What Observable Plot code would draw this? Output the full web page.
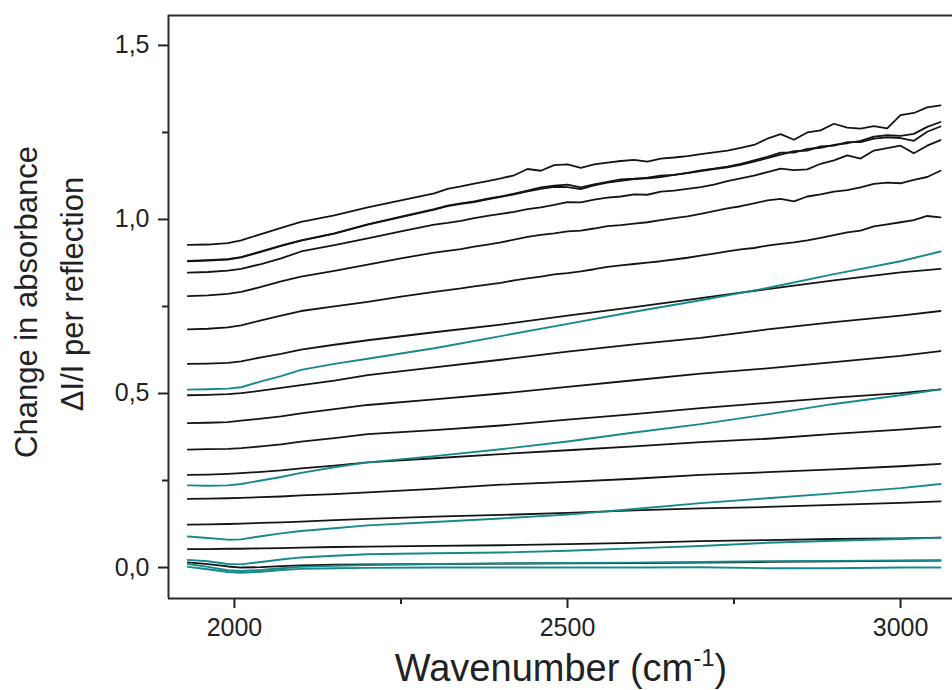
<!DOCTYPE html>
<html>
<head>
<meta charset="utf-8">
<script src="https://cdn.jsdelivr.net/npm/d3@7"></script>
<script src="https://cdn.jsdelivr.net/npm/@observablehq/plot@0.6"></script>
<style>
  html, body { margin: 0; padding: 0; background: #ffffff; }
  #chart svg { display: block; }
</style>
</head>
<body>
<div id="chart"></div>
<script>
// ---------- data ----------
// wavenumber grids (cm^-1)
const wnNoisy = [1930, 1960, 1990, 2010, 2040, 2070, 2100, 2150, 2200, 2250, 2300,
  2320, 2340, 2360, 2380, 2400, 2420, 2440, 2460, 2480, 2500,
  2520, 2540, 2560, 2580, 2600, 2620, 2640, 2660, 2680, 2700,
  2720, 2740, 2760, 2780, 2800, 2820, 2840, 2860, 2880, 2900,
  2920, 2940, 2960, 2980, 3000, 3020, 3040, 3060];
const wnSmooth = [1930, 1960, 1990, 2010, 2040, 2070, 2100, 2150, 2200, 2300,
  2400, 2500, 2600, 2700, 2800, 2900, 3000, 3060];

// black spectra (noisy upper group, on wnNoisy)
const blackA = [0.927, 0.928, 0.932, 0.940, 0.958, 0.976, 0.993, 1.012, 1.035, 1.055, 1.075,
  1.088, 1.095, 1.103, 1.110, 1.118, 1.127, 1.145, 1.140, 1.156, 1.158,
  1.148, 1.158, 1.163, 1.168, 1.171, 1.166, 1.175, 1.178, 1.182, 1.188,
  1.193, 1.198, 1.206, 1.214, 1.232, 1.245, 1.229, 1.250, 1.256, 1.275,
  1.264, 1.261, 1.268, 1.262, 1.300, 1.306, 1.322, 1.328];
const blackB = [0.881, 0.883, 0.886, 0.892, 0.908, 0.925, 0.940, 0.960, 0.986, 1.008, 1.030,
  1.040, 1.046, 1.052, 1.060, 1.066, 1.074, 1.083, 1.092, 1.097, 1.100,
  1.092, 1.101, 1.108, 1.115, 1.117, 1.120, 1.126, 1.128, 1.134, 1.141,
  1.146, 1.152, 1.160, 1.170, 1.180, 1.192, 1.192, 1.203, 1.206, 1.214,
  1.219, 1.226, 1.238, 1.242, 1.240, 1.246, 1.266, 1.280];
const blackC = [0.880, 0.882, 0.885, 0.891, 0.907, 0.924, 0.939, 0.959, 0.985, 1.007, 1.028,
  1.038, 1.045, 1.050, 1.058, 1.065, 1.072, 1.081, 1.088, 1.094, 1.093,
  1.087, 1.098, 1.106, 1.111, 1.116, 1.118, 1.122, 1.128, 1.133, 1.139,
  1.145, 1.150, 1.157, 1.166, 1.176, 1.186, 1.196, 1.198, 1.210, 1.212,
  1.222, 1.222, 1.232, 1.236, 1.234, 1.226, 1.252, 1.267];
const blackD = [0.847, 0.849, 0.853, 0.858, 0.872, 0.888, 0.908, 0.926, 0.946, 0.966, 0.985,
  0.990, 0.996, 1.004, 1.010, 1.016, 1.022, 1.030, 1.035, 1.042, 1.050,
  1.049, 1.057, 1.063, 1.066, 1.072, 1.071, 1.080, 1.083, 1.088, 1.093,
  1.100, 1.110, 1.118, 1.126, 1.136, 1.146, 1.142, 1.144, 1.160, 1.170,
  1.184, 1.175, 1.198, 1.205, 1.212, 1.190, 1.212, 1.228];
const blackE = [0.780, 0.782, 0.786, 0.792, 0.806, 0.822, 0.836, 0.852, 0.870, 0.888, 0.905,
  0.910, 0.915, 0.922, 0.928, 0.934, 0.942, 0.950, 0.956, 0.960, 0.966,
  0.968, 0.974, 0.981, 0.984, 0.988, 0.992, 0.998, 1.004, 1.009, 1.016,
  1.024, 1.032, 1.038, 1.046, 1.055, 1.059, 1.052, 1.066, 1.072, 1.080,
  1.084, 1.092, 1.102, 1.106, 1.104, 1.114, 1.122, 1.140];
const blackF = [0.684, 0.686, 0.690, 0.696, 0.710, 0.724, 0.737, 0.750, 0.763, 0.778, 0.792,
  0.797, 0.802, 0.808, 0.813, 0.818, 0.825, 0.831, 0.836, 0.842, 0.846,
  0.851, 0.857, 0.864, 0.868, 0.872, 0.876, 0.880, 0.885, 0.890, 0.896,
  0.902, 0.908, 0.914, 0.918, 0.925, 0.930, 0.934, 0.940, 0.947, 0.955,
  0.963, 0.968, 0.980, 0.986, 0.992, 0.998, 1.010, 1.006];

// black spectra (smooth lower group, on wnSmooth)
const blackG = [0.585, 0.586, 0.588, 0.592, 0.604, 0.614, 0.626, 0.640, 0.653, 0.676, 0.698, 0.724, 0.748, 0.774, 0.800, 0.825, 0.848, 0.858];
const blackH = [0.495, 0.496, 0.498, 0.501, 0.508, 0.516, 0.524, 0.537, 0.553, 0.575, 0.597, 0.620, 0.641, 0.660, 0.684, 0.705, 0.724, 0.737];
const blackI = [0.415, 0.416, 0.418, 0.422, 0.428, 0.434, 0.443, 0.455, 0.467, 0.483, 0.500, 0.519, 0.538, 0.557, 0.572, 0.590, 0.608, 0.622];
const blackJ = [0.339, 0.340, 0.341, 0.343, 0.348, 0.354, 0.362, 0.372, 0.383, 0.395, 0.408, 0.425, 0.441, 0.458, 0.473, 0.488, 0.501, 0.512];
const blackK = [0.266, 0.267, 0.269, 0.271, 0.275, 0.279, 0.285, 0.293, 0.302, 0.314, 0.326, 0.337, 0.348, 0.360, 0.370, 0.384, 0.396, 0.405];
const blackL = [0.197, 0.198, 0.199, 0.200, 0.202, 0.204, 0.207, 0.211, 0.216, 0.226, 0.238, 0.246, 0.255, 0.266, 0.274, 0.282, 0.291, 0.298];
const blackM = [0.123, 0.124, 0.125, 0.126, 0.128, 0.130, 0.132, 0.136, 0.140, 0.146, 0.151, 0.157, 0.164, 0.170, 0.174, 0.180, 0.186, 0.190];
const blackN = [0.053, 0.053, 0.054, 0.054, 0.055, 0.056, 0.057, 0.059, 0.060, 0.062, 0.064, 0.067, 0.071, 0.076, 0.079, 0.082, 0.084, 0.086];
const blackP = [0.015, 0.010, 0.003, 0.000, 0.001, 0.004, 0.006, 0.008, 0.009, 0.010, 0.011, 0.012, 0.013, 0.014, 0.016, 0.018, 0.019, 0.020];

// teal spectra (on wnSmooth)
const teal1 = [0.511, 0.512, 0.514, 0.518, 0.535, 0.550, 0.568, 0.585, 0.600, 0.630, 0.665, 0.700, 0.735, 0.768, 0.803, 0.843, 0.880, 0.908];
const teal2 = [0.236, 0.235, 0.236, 0.240, 0.250, 0.260, 0.272, 0.288, 0.302, 0.320, 0.340, 0.362, 0.388, 0.412, 0.440, 0.470, 0.495, 0.512];
const teal3 = [0.089, 0.085, 0.080, 0.081, 0.090, 0.098, 0.105, 0.113, 0.121, 0.131, 0.141, 0.152, 0.168, 0.185, 0.199, 0.213, 0.228, 0.240];
const teal4 = [0.022, 0.018, 0.010, 0.009, 0.016, 0.023, 0.029, 0.034, 0.038, 0.041, 0.043, 0.048, 0.055, 0.062, 0.071, 0.077, 0.082, 0.086];
const teal5 = [0.010, 0.002, -0.008, -0.010, -0.007, -0.002, 0.002, 0.005, 0.007, 0.010, 0.012, 0.013, 0.014, 0.016, 0.018, 0.019, 0.020, 0.021];
const teal6 = [0.002, -0.005, -0.013, -0.015, -0.012, -0.007, -0.004, -0.002, -0.001, 0.000, 0.000, 0.000, 0.000, 0.001, -0.002, -0.002, 0.000, 0.000];

// ticks
const xMajor = [2000, 2500, 3000];
const xMinor = [2250, 2750];
const yMajor = [0, 0.5, 1.0, 1.5];
const yMinor = [0.25, 0.75, 1.25];

// ---------- build tables ----------
const blackSeries = [
  ["A", wnNoisy, blackA], ["B", wnNoisy, blackB], ["C", wnNoisy, blackC],
  ["D", wnNoisy, blackD], ["E", wnNoisy, blackE], ["F", wnNoisy, blackF],
  ["G", wnSmooth, blackG], ["H", wnSmooth, blackH], ["I", wnSmooth, blackI],
  ["J", wnSmooth, blackJ], ["K", wnSmooth, blackK], ["L", wnSmooth, blackL],
  ["M", wnSmooth, blackM], ["N", wnSmooth, blackN], ["P", wnSmooth, blackP]
];
const tealSeries = [
  ["T1", wnSmooth, teal1], ["T2", wnSmooth, teal2], ["T3", wnSmooth, teal3],
  ["T4", wnSmooth, teal4], ["T5", wnSmooth, teal5], ["T6", wnSmooth, teal6]
];
const toRows = (list) => list.flatMap(([id, xs, ys]) => ys.map((v, i) => ({id, wn: xs[i], v})));
const blackRows = toRows(blackSeries);
const tealRows = toRows(tealSeries);

const xDom = [1901, 3078];
const yDom = [-0.089, 1.586];
const fmt = d => d.toFixed(1).replace(".", ",");

const chart = Plot.plot({
  width: 952,
  height: 690,
  marginLeft: 168,
  marginRight: 0,
  marginTop: 15,
  marginBottom: 92,
  style: {fontFamily: '"Liberation Sans", Arial, sans-serif', background: "#ffffff", color: "#222222", overflow: "visible"},
  x: {domain: xDom},
  y: {domain: yDom},
  marks: [
    Plot.axisX({ticks: xMajor, tickSize: 10, tickPadding: 10, fontSize: 25, tickFormat: d => String(d), label: null, strokeWidth: 2}),
    Plot.axisX({ticks: xMinor, tickSize: 6, tickFormat: () => "", label: null, strokeWidth: 2}),
    Plot.axisY({ticks: yMajor, tickSize: 10, tickPadding: 9, fontSize: 25, tickFormat: fmt, label: null, strokeWidth: 2}),
    Plot.axisY({ticks: yMinor, tickSize: 6, tickFormat: () => "", label: null, strokeWidth: 2}),
    Plot.line(blackRows, {x: "wn", y: "v", z: "id", stroke: "#141414", strokeWidth: 1.8}),
    Plot.line(tealRows, {x: "wn", y: "v", z: "id", stroke: "#17898b", strokeWidth: 1.9}),
    Plot.ruleX([xDom[0]], {stroke: "#2a2a2a", strokeWidth: 2}),
    Plot.ruleY([yDom[1]], {stroke: "#2a2a2a", strokeWidth: 2}),
    Plot.ruleY([yDom[0]], {stroke: "#2a2a2a", strokeWidth: 2})
  ]
});

document.getElementById("chart").appendChild(chart);

// axis titles
const svg = d3.select(chart);
const xt = svg.append("text")
  .attr("x", 561).attr("y", 681)
  .attr("text-anchor", "middle")
  .attr("font-size", 38)
  .attr("fill", "#222");
xt.append("tspan").text("Wavenumber (cm");
xt.append("tspan").attr("font-size", 24).attr("dy", -15).text("-1");
xt.append("tspan").attr("dy", 15).text(")");

svg.append("text")
  .attr("transform", "translate(37,302) rotate(-90)")
  .attr("text-anchor", "middle")
  .attr("font-size", 31)
  .attr("fill", "#222")
  .text("Change in absorbance");
svg.append("text")
  .attr("transform", "translate(83,294) rotate(-90)")
  .attr("text-anchor", "middle")
  .attr("font-size", 31)
  .attr("fill", "#222")
  .text("ΔI/I per reflection");
</script>
</body>
</html>
